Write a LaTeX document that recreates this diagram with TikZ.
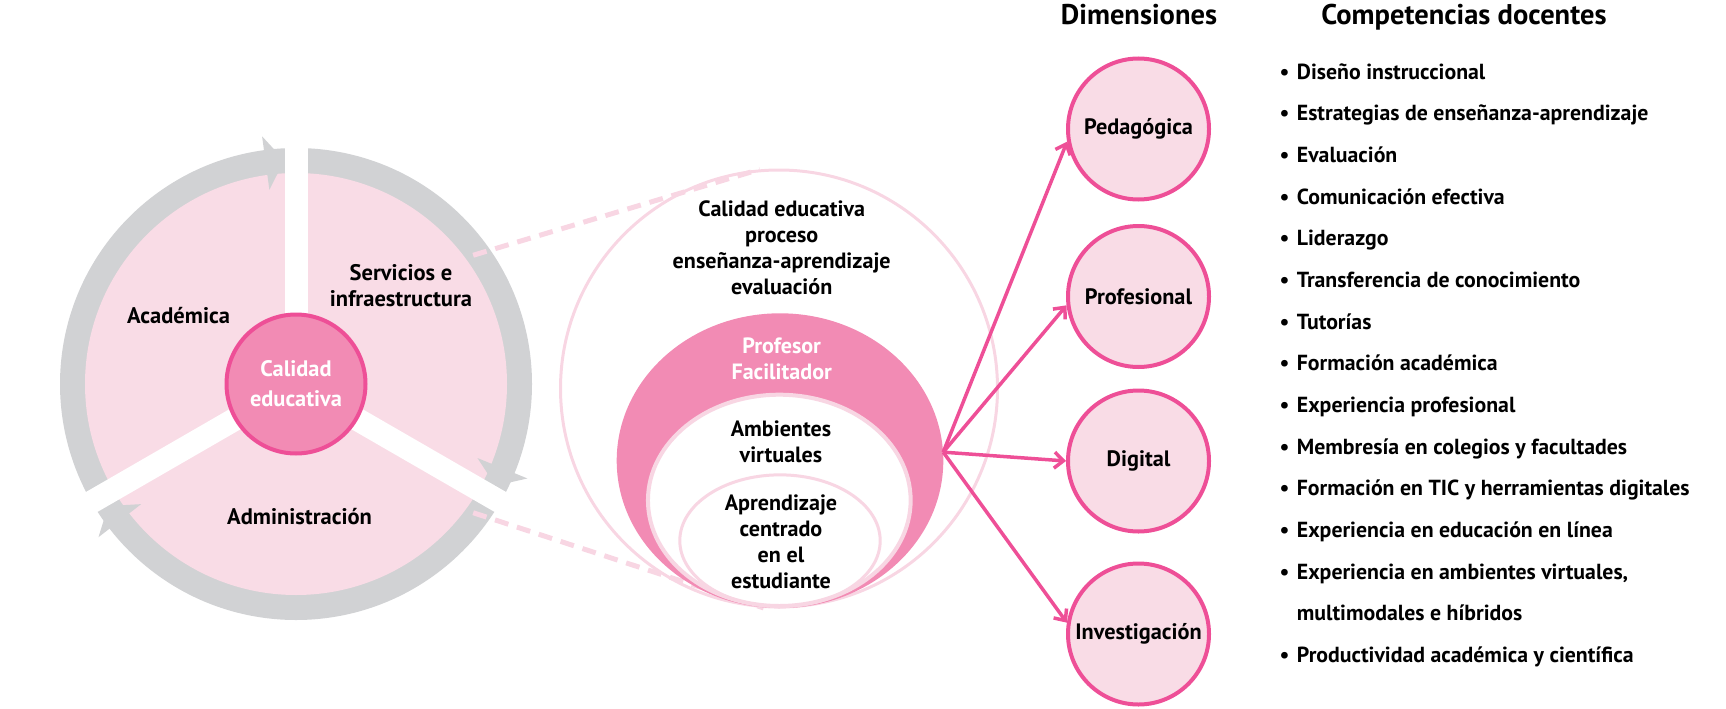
\documentclass[tikz,border=0pt]{standalone}
\usepackage{fontspec}
\setmainfont{PT Sans}
\usetikzlibrary{shapes.geometric,arrows.meta,calc}
\definecolor{palepink}{HTML}{F9DCE6}
\definecolor{ringgray}{HTML}{D1D2D4}
\definecolor{midpink}{HTML}{F28BB4}
\definecolor{hotpink}{HTML}{EE4F97}
\definecolor{linepink}{HTML}{F8D6E3}
\begin{document}
\begin{tikzpicture}[x=1pt,y=-1pt,
  lbl/.style={font=\fontsize{22.1}{26}\selectfont\bfseries, align=center, inner sep=0pt, text=black},
  side/.style={font=\fontsize{22.5}{25.7}\selectfont\bfseries, align=center, inner sep=0pt, text=black},
  ttl/.style={font=\fontsize{28.5}{30}\selectfont\bfseries, inner sep=0pt, anchor=base},
  item/.style={font=\fontsize{21.8}{26}\selectfont\bfseries, inner sep=0pt, anchor=base west},
  dim/.style={circle, minimum size=141pt, draw=hotpink, line width=4pt, fill=palepink, inner sep=0pt,
    font=\fontsize{22.3}{26}\selectfont\bfseries},
  dashline/.style={draw=linepink, line width=5pt, dash pattern=on 14pt off 9pt},
  arr/.style={draw=hotpink, line width=3.5pt, -{Straight Barb[length=9pt,width=16pt]}},
  gap/.style={draw=white, line width=23pt}
]
\useasboundingbox (0,0) rectangle (1726,709);

% ---------- left cycle ----------
\coordinate (C) at (296,384);
\fill[ringgray] (C) circle (236);
\fill[palepink] (C) circle (211);
\foreach \a in {-90,150,30} \draw[gap] (C) -- ++(\a:252);
\fill[ringgray, shift={(296,384)}] (-97.8:196) -- (-93:224) -- (-97.8:250) -- cycle;
\fill[ringgray, shift={(296,384)}] (22.2:196) -- (27:224) -- (22.2:250) -- cycle;
\fill[ringgray, shift={(296,384)}] (142.2:196) -- (147:224) -- (142.2:250) -- cycle;

\node[circle, minimum size=139pt, line width=4pt, draw=hotpink, fill=midpink, inner sep=0pt,
  font=\fontsize{22.4}{30}\selectfont\bfseries, text=white, align=center] (cal) at (C) {Calidad\\educativa};

\node[side] (acad) at (178.6,315.7) {Académica};
\node[side] (serv) at (401,285.7) {Servicios e\\infraestructura};
\node[side] (adm) at (299.6,517) {Administración};

% ---------- middle ----------
\coordinate (dA) at ($(C)+(-36:219)$);
\coordinate (dB) at ($(C)+(36:219)$);
\node[circle, minimum size=437pt, draw=linepink, line width=3pt, inner sep=0pt] (bigc) at (779,388.5) {};
\draw[dashline] (dA) -- (bigc.95);
\draw[dashline] (dB) -- (bigc.266);

\node[ellipse, minimum width=326.6pt, minimum height=294.8pt, fill=midpink, inner sep=0pt] (prof) at (780,460.7) {};
\node[ellipse, minimum width=262.7pt, minimum height=211.3pt, fill=white, draw=linepink, line width=4pt, inner sep=0pt] (amb) at (779.3,500.35) {};
\node[ellipse, minimum width=200.4pt, minimum height=131.7pt, draw=linepink, line width=3pt, inner sep=0pt] (apr) at (780,540.7) {};

\node[lbl] (t1) at (781.7,247.5) {Calidad educativa\\proceso\\enseñanza-aprendizaje\\evaluación};
\node[lbl, text=white] (t2) at (781.7,358.9) {Profesor\\Facilitador};
\node[lbl] (t3) at (781,442.2) {Ambientes\\virtuales};
\node[lbl] (t4) at (781,541.3) {Aprendizaje\\centrado\\en el\\estudiante};

% ---------- dimensions ----------
\node[ttl] (hd1) at (1139,25) {Dimensiones};
\node[ttl] (hd2) at (1464,25) {Competencias docentes};

\node[dim] (ped) at (1138.5,129) {Pedagógica};
\node[dim] (pro) at (1138.5,296.5) {Profesional};
\node[dim] (dig) at (1138.5,461) {Digital};
\node[dim] (inv) at (1138.5,634) {Investigación};

\coordinate (src) at (prof.3);
\draw[arr] (src) -- (ped.190);
\draw[arr] (src) -- (pro.187);
\draw[arr] (src) -- (dig.180);
\draw[arr] (src) -- (inv.171);

% ---------- competencias ----------
\node[item] (c1) at (1279.3,79.3) {\makebox[17.4pt][l]{\textbullet}Diseño instruccional};
\node[item] (c2) at (1279.3,120.96) {\makebox[17.4pt][l]{\textbullet}Estrategias de enseñanza-aprendizaje};
\node[item] (c3) at (1279.3,162.62) {\makebox[17.4pt][l]{\textbullet}Evaluación};
\node[item] (c4) at (1279.3,204.28) {\makebox[17.4pt][l]{\textbullet}Comunicación efectiva};
\node[item] (c5) at (1279.3,245.94) {\makebox[17.4pt][l]{\textbullet}Liderazgo};
\node[item] (c6) at (1279.3,287.6) {\makebox[17.4pt][l]{\textbullet}Transferencia de conocimiento};
\node[item] (c7) at (1279.3,329.26) {\makebox[17.4pt][l]{\textbullet}Tutorías};
\node[item] (c8) at (1279.3,370.92) {\makebox[17.4pt][l]{\textbullet}Formación académica};
\node[item] (c9) at (1279.3,412.58) {\makebox[17.4pt][l]{\textbullet}Experiencia profesional};
\node[item] (c10) at (1279.3,454.24) {\makebox[17.4pt][l]{\textbullet}Membresía en colegios y facultades};
\node[item] (c11) at (1279.3,495.9) {\makebox[17.4pt][l]{\textbullet}Formación en TIC y herramientas digitales};
\node[item] (c12) at (1279.3,537.56) {\makebox[17.4pt][l]{\textbullet}Experiencia en educación en línea};
\node[item] (c13) at (1279.3,579.22) {\makebox[17.4pt][l]{\textbullet}Experiencia en ambientes virtuales,};
\node[item] (c14) at (1279.3,620.88) {\makebox[17.4pt][l]{}multimodales e híbridos};
\node[item] (c15) at (1279.3,662.54) {\makebox[17.4pt][l]{\textbullet}Productividad académica y científica};
\end{tikzpicture}
\end{document}
